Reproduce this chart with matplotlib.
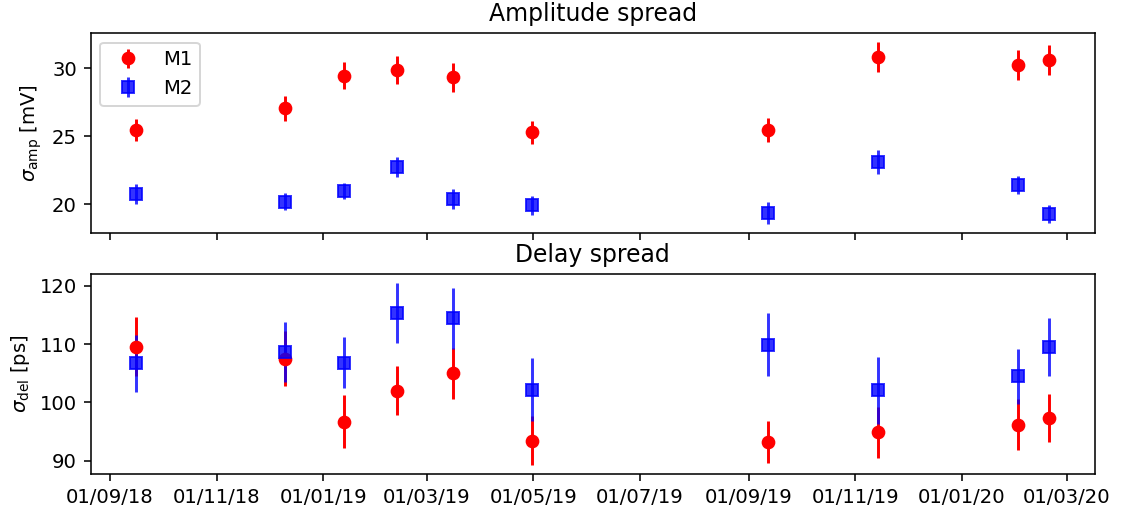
import datetime as dt

import matplotlib
matplotlib.use("Agg")
import matplotlib.dates as mdates
import matplotlib.pyplot as plt

DATES = [
    dt.date(2018, 9, 16), dt.date(2018, 12, 10), dt.date(2019, 1, 13),
    dt.date(2019, 2, 12), dt.date(2019, 3, 16), dt.date(2019, 4, 30),
    dt.date(2019, 9, 12), dt.date(2019, 11, 14), dt.date(2020, 2, 2),
    dt.date(2020, 2, 20),
]

# amplitude spread [mV]
AMP_M1 = [25.45, 27.03, 29.44, 29.83, 29.32, 25.28, 25.43, 30.83, 30.22, 30.58]
AMP_M1_ERR = [0.82, 0.9, 1.0, 1.03, 1.06, 0.85, 0.88, 1.1, 1.1, 1.1]
AMP_M2 = [20.75, 20.19, 20.97, 22.72, 20.39, 19.93, 19.34, 23.09, 21.39, 19.27]
AMP_M2_ERR = [0.72, 0.65, 0.6, 0.73, 0.72, 0.7, 0.8, 0.88, 0.65, 0.65]

# delay spread [ps]
DEL_M1 = [109.55, 107.5, 96.7, 102.05, 105.0, 93.47, 93.18, 94.9, 96.2, 97.3]
DEL_M1_ERR = [5.0, 4.66, 4.57, 4.2, 4.4, 4.2, 3.6, 4.4, 4.4, 4.1]
DEL_M2 = [106.7, 108.64, 106.8, 115.34, 114.38, 102.2, 109.9, 102.1, 104.5, 109.5]
DEL_M2_ERR = [4.85, 5.2, 4.35, 5.1, 5.2, 5.34, 5.4, 5.75, 4.7, 4.9]

DPI = 141

fig, (ax1, ax2) = plt.subplots(2, 1, sharex=True, figsize=(1122 / DPI, 516 / DPI), dpi=DPI)
fig.subplots_adjust(left=0.0808, right=0.976, top=0.9366, bottom=0.0808, hspace=0.204)

ax1.errorbar(DATES, AMP_M1, yerr=AMP_M1_ERR, fmt="o", color="red", label="M1")
ax1.errorbar(DATES, AMP_M2, yerr=AMP_M2_ERR, fmt="s", color="blue", alpha=0.8, label="M2")
ax1.set_title("Amplitude spread")
ax1.set_ylabel(r"$\sigma_{\rm amp}$ [mV]")
ax1.legend(loc="upper left")

ax2.errorbar(DATES, DEL_M1, yerr=DEL_M1_ERR, fmt="o", color="red", label="M1")
ax2.errorbar(DATES, DEL_M2, yerr=DEL_M2_ERR, fmt="s", color="blue", alpha=0.8, label="M2")
ax2.set_title("Delay spread")
ax2.set_ylabel(r"$\sigma_{\rm del}$ [ps]")

ax2.xaxis.set_major_locator(mdates.MonthLocator(bymonth=[1, 3, 5, 7, 9, 11]))
ax2.xaxis.set_major_formatter(mdates.DateFormatter("%d/%m/%y"))

fig.savefig("out.png", dpi=DPI)
